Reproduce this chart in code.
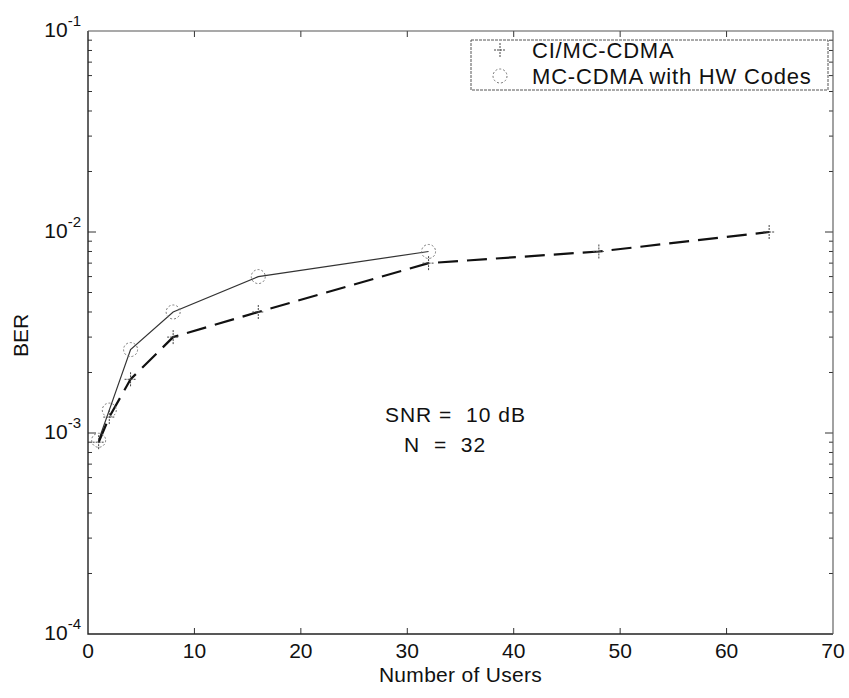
<!DOCTYPE html>
<html>
<head>
<meta charset="utf-8">
<script src="https://cdn.jsdelivr.net/npm/d3@7"></script>
<style>
  body { margin: 0; background: #fff; }
  text { font-family: "Liberation Sans", Arial, sans-serif; fill: #111; }
</style>
</head>
<body>
<div id="chart"></div>
<script>
const width = 849,
  height = 698;
const margin = { top: 31, right: 16, bottom: 64, left: 88 };

// data
const users = [1, 2, 4, 8, 16, 32, 48, 64];
const berCI = [0.0009, 0.0012, 0.00185, 0.003, 0.004, 0.007, 0.008, 0.01];
const usersHW = [1, 2, 4, 8, 16, 32];
const berHW = [0.00092, 0.0013, 0.0026, 0.004, 0.006, 0.008];
const xTicks = [0, 10, 20, 30, 40, 50, 60, 70];
const yExps = [-4, -3, -2, -1];
const legendLabels = ["CI/MC-CDMA", "MC-CDMA with HW Codes"];
const noteLines = ["SNR =  10 dB", "N  =  32"];

const x = d3
  .scaleLinear()
  .domain([0, 70])
  .range([margin.left, width - margin.right]);
const y = d3
  .scaleLog()
  .domain([1e-4, 1e-1])
  .range([height - margin.bottom, margin.top]);

const svg = d3
  .select("#chart")
  .append("svg")
  .attr("width", width)
  .attr("height", height);

const x0 = margin.left,
  x1 = width - margin.right,
  y0 = height - margin.bottom,
  y1 = margin.top;

// ticks
const minor = [];
for (let e = -4; e < -1; e++) {
  for (let k = 2; k <= 9; k++) minor.push(k * Math.pow(10, e));
}
const tickG = svg.append("g").attr("stroke", "#333").attr("stroke-width", 1);
xTicks.slice(1, -1).forEach((t) => {
  tickG.append("line").attr("x1", x(t)).attr("x2", x(t)).attr("y1", y0).attr("y2", y0 - 6);
  tickG.append("line").attr("x1", x(t)).attr("x2", x(t)).attr("y1", y1).attr("y2", y1 + 6);
});
minor.forEach((v) => {
  tickG.append("line").attr("x1", x0).attr("x2", x0 + 4).attr("y1", y(v)).attr("y2", y(v));
  tickG.append("line").attr("x1", x1).attr("x2", x1 - 4).attr("y1", y(v)).attr("y2", y(v));
});
yExps.slice(1, -1).forEach((e) => {
  const v = Math.pow(10, e);
  tickG.append("line").attr("x1", x0).attr("x2", x0 + 8).attr("y1", y(v)).attr("y2", y(v));
  tickG.append("line").attr("x1", x1).attr("x2", x1 - 8).attr("y1", y(v)).attr("y2", y(v));
});

// box: left/bottom dark, top/right lighter as in the scan
svg.append("path")
  .attr("d", `M${x0},${y1}V${y0}H${x1}`)
  .attr("fill", "none")
  .attr("stroke", "#222")
  .attr("stroke-width", 1.4);
svg.append("path")
  .attr("d", `M${x0},${y1}H${x1}V${y0}`)
  .attr("fill", "none")
  .attr("stroke", "#555")
  .attr("stroke-width", 1.1);

// tick labels
svg
  .selectAll(".xl")
  .data(xTicks)
  .enter()
  .append("text")
  .attr("x", (d) => x(d))
  .attr("y", y0 + 24)
  .attr("text-anchor", "middle")
  .attr("font-size", 21)
  .text((d) => d);

yExps.forEach((e) => {
  const t = svg
    .append("text")
    .attr("x", x0 - 7)
    .attr("y", y(Math.pow(10, e)) + 6)
    .attr("text-anchor", "end")
    .attr("font-size", 21);
  t.append("tspan").text("10");
  t.append("tspan").attr("dy", -11).attr("font-size", 15).text(e);
});

// axis labels
svg
  .append("text")
  .attr("x", (x0 + x1) / 2)
  .attr("y", 682)
  .attr("text-anchor", "middle")
  .attr("font-size", 21)
  .attr("letter-spacing", 0.3)
  .text("Number of Users");
svg
  .append("text")
  .attr("transform", `translate(28,${(y0 + y1) / 2 + 3}) rotate(-90)`)
  .attr("text-anchor", "middle")
  .attr("font-size", 21)
  .text("BER");

// lines
const lineCI = d3
  .line()
  .x((d, i) => x(users[i]))
  .y((d) => y(d));
const lineHW = d3
  .line()
  .x((d, i) => x(usersHW[i]))
  .y((d) => y(d));

svg
  .append("path")
  .attr("d", lineHW(berHW))
  .attr("fill", "none")
  .attr("stroke", "#333")
  .attr("stroke-width", 1.2);
svg
  .append("path")
  .attr("d", lineCI(berCI))
  .attr("fill", "none")
  .attr("stroke", "#111")
  .attr("stroke-width", 2.2)
  .attr("stroke-dasharray", "20,9");

// markers
function plus(g, cx, cy) {
  g.append("path")
    .attr("d", `M${cx - 6},${cy}H${cx + 6}M${cx},${cy - 7}V${cy + 7}`)
    .attr("stroke", "#444")
    .attr("stroke-width", 1)
    .attr("stroke-dasharray", "2,1")
    .attr("fill", "none");
}
function circle(g, cx, cy) {
  g.append("circle")
    .attr("cx", cx)
    .attr("cy", cy)
    .attr("r", 7)
    .attr("stroke", "#777")
    .attr("stroke-width", 1)
    .attr("stroke-dasharray", "2,2")
    .attr("fill", "none");
}
const mk = svg.append("g");
berCI.forEach((v, i) => plus(mk, x(users[i]), y(v)));
berHW.forEach((v, i) => circle(mk, x(usersHW[i]), y(v)));

// annotation
const noteX = [27.9, 29.7];
noteLines.forEach((s, i) => {
  svg
    .append("text")
    .attr("x", x(noteX[i]))
    .attr("y", 422 + i * 30)
    .attr("font-size", 21)
    .attr("letter-spacing", 1)
    .attr("xml:space", "preserve")
    .style("white-space", "pre")
    .text(s);
});

// legend
const lg = svg.append("g");
lg.append("rect")
  .attr("x", 471)
  .attr("y", 40)
  .attr("width", 357)
  .attr("height", 50)
  .attr("fill", "#fff")
  .attr("stroke", "#555")
  .attr("stroke-width", 1)
  .attr("stroke-dasharray", "3,1");
legendLabels.forEach((s, i) => {
  const cy = 50 + i * 26;
  if (i === 0) plus(lg, 500, cy);
  else circle(lg, 500, cy);
  lg.append("text")
    .attr("x", 532)
    .attr("y", cy + 8)
    .attr("font-size", 22)
    .attr("letter-spacing", 0.8)
    .text(s);
});
</script>
</body>
</html>
